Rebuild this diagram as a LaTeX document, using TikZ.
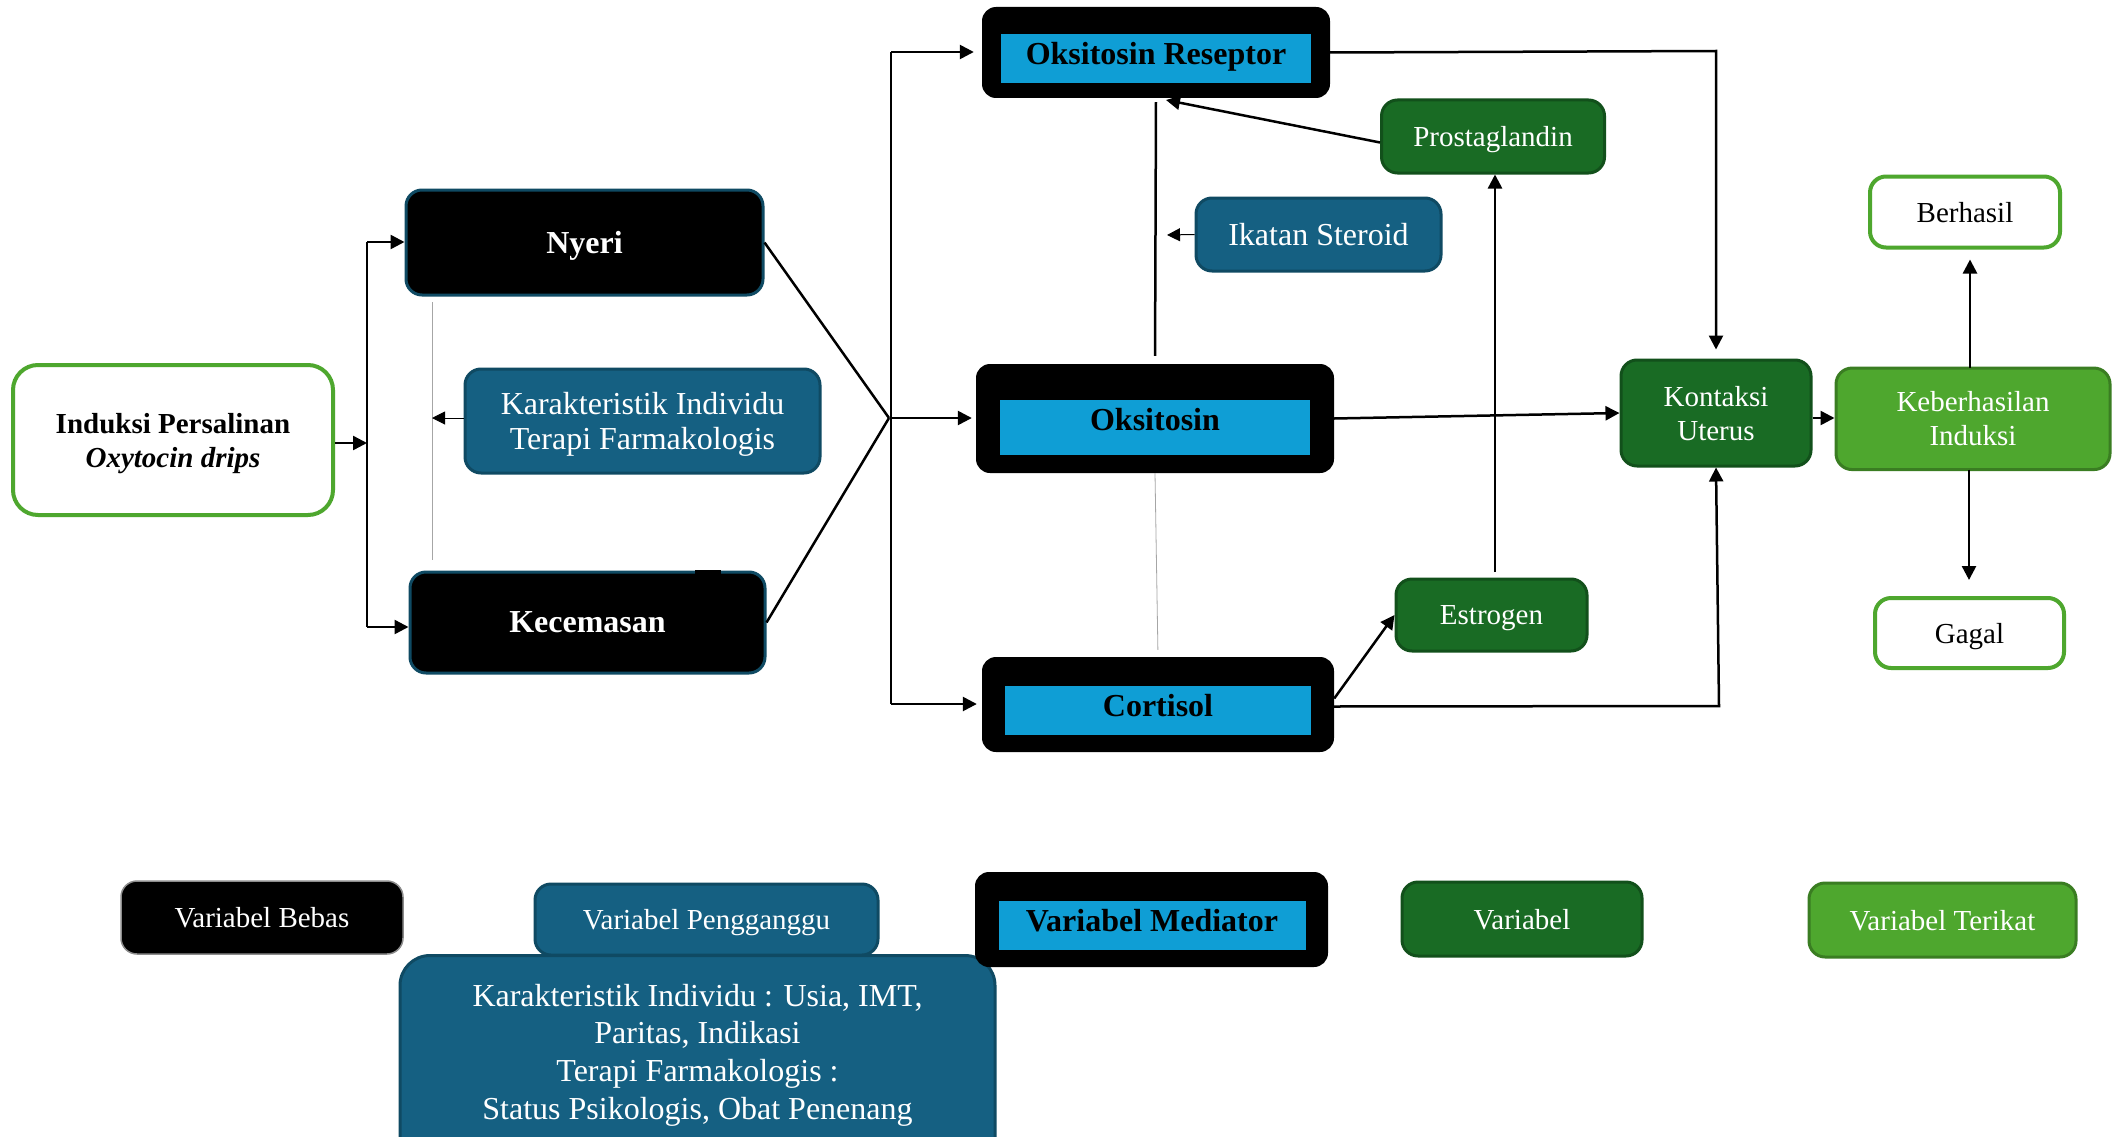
\documentclass[tikz,border=0pt]{standalone}
\usepackage{fontspec}
\setmainfont{Liberation Serif}
\usetikzlibrary{arrows.meta}
\definecolor{cTeal}{HTML}{156082}
\definecolor{cTealD}{HTML}{0F4A63}
\definecolor{cBlue}{HTML}{0F9ED5}
\definecolor{cDG}{HTML}{196B24}
\definecolor{cDGD}{HTML}{12501B}
\definecolor{cLG}{HTML}{4EA72E}
\definecolor{cLGD}{HTML}{3A7D22}
\newcommand\fsA{\fontsize{32pt}{35pt}\selectfont}
\newcommand\fsB{\fontsize{29pt}{34pt}\selectfont}
\newcommand\fsC{\fontsize{32pt}{37.7pt}\selectfont}
\begin{document}
\begin{tikzpicture}[x=1pt,y=-1pt,
  sz/.style 2 args={minimum width=#1pt, minimum height=#2pt},
  bx/.style={rectangle, rounded corners=16pt, align=center, inner sep=0pt, text depth=0pt},
  blackbox/.style={bx, fill=black, draw=cTealD, line width=3pt, text=white, font=\fsA\bfseries},
  tealbox/.style={bx, fill=cTeal, draw=cTealD, line width=3pt, text=white, font=\fsA},
  dgbox/.style={bx, fill=cDG, draw=cDGD, line width=3pt, text=white, font=\fsB},
  lgbox/.style={bx, fill=cLG, draw=cLGD, line width=3pt, text=white, font=\fsB},
  wbox/.style={bx, fill=white, draw=cLG, line width=4pt, text=black, font=\fsB},
  medouter/.style={rectangle, rounded corners=14pt, fill=black, inner sep=0pt},
  medinner/.style={rectangle, fill=cBlue, inner sep=0pt, text=black, font=\fsA\bfseries},
  conn/.style={line width=2.5pt},
  arr/.style={line width=2.5pt, -{Triangle[length=14pt,width=14pt]}},
  arrthin/.style={line width=1pt, -{Triangle[length=13pt,width=13pt]}},
  gline/.style={line width=0.8pt, black!35}
]
\clip (0,0) rectangle (2122,1137);
\fill[white] (0,0) rectangle (2122,1137);

% left column
\node[wbox, sz={320}{150}, rounded corners=25pt, font=\fsB\bfseries] (induksi) at (173,440) {Induksi Persalinan\\\textit{Oxytocin drips}};
\node[blackbox, sz={357}{105}] (nyeri) at (584.5,242.5) {Nyeri};
\node[tealbox, sz={355}{104}] (karak) at (642.5,421) {Karakteristik Individu\\Terapi Farmakologis};
\node[blackbox, sz={355}{101}] (kecem) at (587.5,622.5) {Kecemasan};
\fill[black] (695,570) rectangle (721,578);

% middle column
\node[medouter, sz={348}{91}] (reseptor) at (1156,52.5) {};
\node[medinner, sz={310}{49}, text depth=10pt] (reseptorIn) at (1156,58.5) {Oksitosin Reseptor};
\node[medouter, sz={358}{109}] (oksitosin) at (1155,418.5) {};
\node[medinner, sz={310}{55}, text depth=16pt] (oksitosinIn) at (1155,427.5) {Oksitosin};
\node[medouter, sz={352}{95}] (cortisol) at (1158,704.5) {};
\node[medinner, sz={306}{49}, text depth=11pt] (cortisolIn) at (1158,710.5) {Cortisol};

\node[dgbox, sz={223}{73}] (prosta) at (1493,136.5) {Prostaglandin};
\node[tealbox, sz={245}{73}] (ikatan) at (1318.5,234.5) {Ikatan Steroid};
\node[dgbox, sz={191}{72}] (estrogen) at (1491.5,615) {Estrogen};

% right column
\node[dgbox, sz={190}{106}] (kontaksi) at (1716,413) {Kontaksi\\Uterus};
\node[lgbox, sz={274}{101.5}] (keber) at (1973,418.8) {Keberhasilan\\Induksi};
\node[wbox, sz={190}{71}] (berhasil) at (1965,212) {Berhasil};
\node[wbox, sz={189}{70}] (gagal) at (1969.5,633) {Gagal};

% legend
\node[bx, fill=black, draw=black!45, line width=1.5pt, text=white, font=\fsB, sz={282}{73}] (bebas) at (262,917.5) {Variabel Bebas};
\node[tealbox, font=\fsB, sz={343}{71}] (pengg) at (706.5,919.5) {Variabel Pengganggu};
\node[tealbox, rounded corners=30pt, sz={595}{250}, anchor=north] (bigbox) at (697.5,954) {};
\node[align=center, text=white, font=\fsC, inner sep=0pt] (bigtext) at (697.5,1055) {Karakteristik Individu : Usia, IMT,\\Paritas, Indikasi\\Terapi Farmakologis :\\Status Psikologis, Obat Penenang};
\node[medouter, sz={353}{95}] (mediator) at (1151.5,919.5) {};
\node[medinner, sz={307}{49}, text depth=11pt] (mediatorIn) at (1152,925.5) {Variabel Mediator};
\node[dgbox, sz={240}{74}] (variabel) at (1522,919) {Variabel};
\node[lgbox, sz={267}{74}] (terikat) at (1942.5,920) {Variabel Terikat};

% left connectors
\coordinate (tA) at (367,242);
\coordinate (tB) at (367,627);
\coordinate (tM) at (367,443);
\draw[arr] (induksi.east |- tM) -- (tM);
\draw[conn] (tA) -- (tB);
\draw[arr] (tA) -- (nyeri.west |- tA);
\draw[arr] (tB) -- (kecem.west |- tB);
\coordinate (g1) at (432,302);
\coordinate (g2) at (432,560);
\draw[gline] (g1) -- (g2);
\coordinate (kA) at (432,418);
\draw[arrthin] (karak.west |- kA) -- (kA);
\coordinate (conv) at (889,418);
\draw[conn] (nyeri.east) -- (conv);
\draw[conn] (kecem.east) -- (conv);

% middle trunk
\coordinate (rA) at (891,52);
\coordinate (rB) at (891,704);
\coordinate (rM) at (891,418);
\draw[conn] (rA) -- (rB);
\draw[arr, shorten >=8pt] (rA) -- (reseptor.west |- rA);
\draw[arr, shorten >=4pt] (rM) -- (oksitosin.west |- rM);
\draw[arr, shorten >=5pt] (rB) -- (cortisol.west |- rB);

% middle connectors
\coordinate (rk) at (1716,51);
\draw[arr, shorten >=9pt] (reseptor.east) -- (rk) -- (kontaksi.north);
\draw[conn, shorten <=8pt, shorten >=4pt] (oksitosin.north) -- (reseptor.south);
\draw[gline, shorten >=7pt] (oksitosin.south) -- (cortisol.north);
\coordinate (rp) at (1166,100);
\draw[arr] ([yshift=-6pt]prosta.west) -- (rp);
\coordinate (ik) at (1167,235);
\draw[arrthin] (ikatan.west) -- (ik);
\coordinate (ep) at (1495,579);
\draw[arr, shorten <=7pt] (ep) -- (ep |- prosta.south);
\draw[arr] ([yshift=6pt]cortisol.east) -- (estrogen.west);
\draw[arr] (oksitosin.east) -- (kontaksi.west);
\coordinate (ck) at (1719,706);
\draw[arr] ([yshift=-2pt]cortisol.east) -- (ck) -- (kontaksi.south);

% right connectors
\draw[arr] ([yshift=-5pt]kontaksi.east) -- ([yshift=-5pt]kontaksi.east -| keber.west);
\coordinate (kb) at (1970,368);
\coordinate (kg) at (1969,469.5);
\draw[arr, shorten >=10pt] (kb) -- (kb |- berhasil.south);
\draw[arr, shorten >=16pt] (kg) -- (kg |- gagal.north);
\end{tikzpicture}
\end{document}
